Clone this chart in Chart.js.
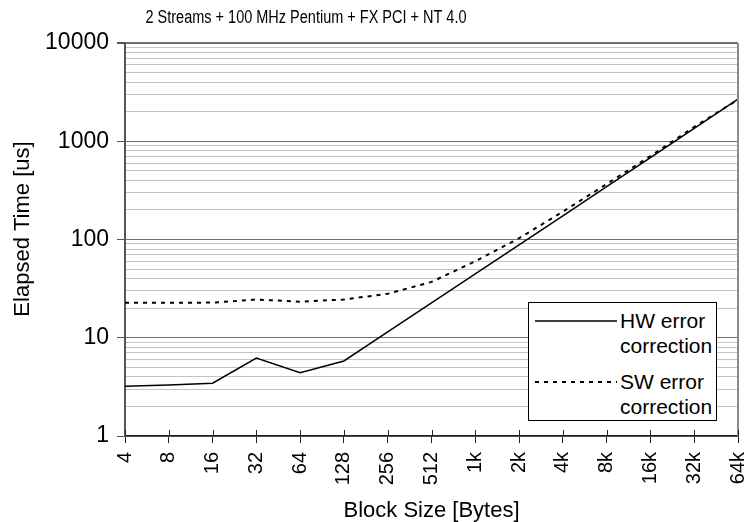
<!DOCTYPE html>
<html>
<head>
<meta charset="utf-8">
<script src="https://cdn.jsdelivr.net/npm/chart.js@4.4.1/dist/chart.umd.min.js"></script>
<style>
  html, body { margin: 0; padding: 0; background: #fff; }
  #wrap { position: relative; width: 744px; height: 522px; }
  #legend { position: absolute; left: 528px; top: 302px; width: 187px; height: 117px;
            border: 1px solid #000; background: #fff; font-family: 'Liberation Sans', Arial, sans-serif;
            font-size: 21px; color: #000; }
  .lg-text { position: absolute; left: 91px; line-height: 25px; white-space: nowrap; }
  .lg-line { position: absolute; left: 6px; }
</style>
</head>
<body>
<div id="wrap">
  <canvas id="c" width="744" height="522"></canvas>
  <div id="legend">
    <svg class="lg-line" style="top:10px" width="84" height="16"><line x1="0" y1="8" x2="82" y2="8" stroke="#000" stroke-width="1.5"/></svg>
    <div class="lg-text" style="top:5px">HW error<br>correction</div>
    <svg class="lg-line" style="top:71px" width="84" height="16"><line x1="0" y1="8" x2="82" y2="8" stroke="#000" stroke-width="2" stroke-dasharray="4,5"/></svg>
    <div class="lg-text" style="top:66px">SW error<br>correction</div>
  </div>
</div>
<script>
const chartTitle = '2 Streams + 100 MHz Pentium + FX PCI + NT 4.0';
const xTitle = 'Block Size [Bytes]';
const yTitle = 'Elapsed Time [us]';
const blockSizes = ['4', '8', '16', '32', '64', '128', '256', '512', '1k', '2k', '4k', '8k', '16k', '32k', '64k'];
const hwLabel = 'HW error correction';
const swLabel = 'SW error correction';
const hwTimes = [3.2, 3.3, 3.45, 6.2, 4.4, 5.8, 11.5, 22.6, 44.6, 88, 174, 345, 680, 1350, 2690];
const swTimes = [22.7, 22.7, 22.8, 24.5, 23.3, 24.5, 28, 37, 60, 103, 192, 367, 707, 1400, 2650];
const yDecades = [1, 10, 100, 1000, 10000];
const yMinorSteps = [1, 2, 3, 4, 5, 6, 7, 8, 9];

const FONT = "'Liberation Sans', Arial, sans-serif";
const yTickValues = [];
yDecades.forEach((d, i) => {
  if (i === yDecades.length - 1) { yTickValues.push(d); return; }
  yMinorSteps.forEach(s => yTickValues.push(s * d));
});
const isMajor = v => yDecades.includes(v);

// condensed chart title and y-axis title drawn in the margins
const textPlugin = {
  id: 'extraText',
  afterDraw(chart) {
    const ctx = chart.ctx;
    ctx.save();
    ctx.font = '18px ' + FONT;
    ctx.fillStyle = '#000';
    ctx.textAlign = 'center';
    ctx.textBaseline = 'middle';
    const w = ctx.measureText(chartTitle).width;
    ctx.translate(306, 18);
    ctx.scale(321 / w, 1);
    ctx.fillText(chartTitle, 0, 0);
    ctx.restore();

    ctx.save();
    ctx.font = '22px ' + FONT;
    ctx.fillStyle = '#000';
    ctx.textAlign = 'center';
    ctx.textBaseline = 'middle';
    ctx.translate(23, 229);
    ctx.rotate(-Math.PI / 2);
    ctx.fillText(yTitle, 0, 0);
    ctx.restore();
  }
};

const framePlugin = {
  id: 'frame',
  afterDraw(chart) {
    const {ctx, chartArea: a, scales} = chart;
    ctx.save();
    ctx.strokeStyle = '#8c8c8c';
    ctx.lineWidth = 2;
    ctx.beginPath();
    ctx.moveTo(a.right, a.top);
    ctx.lineTo(a.right, a.bottom);
    ctx.stroke();
    ctx.strokeStyle = '#222';
    ctx.lineWidth = 1;
    const xs = scales.x;
    blockSizes.forEach((_, i) => {
      const x = Math.round(xs.getPixelForTick(i)) + 0.5;
      ctx.beginPath();
      ctx.moveTo(x, a.bottom);
      ctx.lineTo(x, a.bottom - 6);
      ctx.stroke();
    });
    ctx.restore();
  }
};

new Chart(document.getElementById('c'), {
  type: 'line',
  data: {
    labels: blockSizes,
    datasets: [
      { label: hwLabel, data: hwTimes, borderColor: '#000', borderWidth: 1.5, pointRadius: 0, tension: 0, fill: false },
      { label: swLabel, data: swTimes, borderColor: '#000', borderWidth: 2, borderDash: [4, 5], pointRadius: 0, tension: 0, fill: false }
    ]
  },
  options: {
    responsive: false,
    animation: false,
    layout: { padding: { left: 0, right: 6, top: 43, bottom: 0 } },
    plugins: {
      legend: { display: false },
      tooltip: { enabled: false },
      title: { display: false, text: chartTitle }
    },
    scales: {
      x: {
        type: 'category',
        offset: false,
        grid: { display: true, drawOnChartArea: false, drawTicks: true, tickLength: 7, color: '#222', tickColor: '#222' },
        border: { display: true, color: '#222', width: 1.5 },
        ticks: {
          color: '#000', font: { family: FONT, size: 20 }, minRotation: 90, maxRotation: 90,
          autoSkip: false, padding: 9
        },
        title: { display: true, text: xTitle, color: '#000', font: { family: FONT, size: 22, lineHeight: 1 }, padding: { top: 0, bottom: 0 } },
        afterFit: s => { s.height = 86; s.paddingLeft = 0; s.paddingRight = 0; }
      },
      y: {
        type: 'logarithmic',
        min: 1, max: 10000,
        afterBuildTicks: s => { s.ticks = yTickValues.map(v => ({ value: v, major: isMajor(v) })); },
        grid: {
          display: true, drawOnChartArea: true, drawTicks: true, tickLength: 8,
          color: c => (c.tick && isMajor(c.tick.value)) ? '#6f6f6f' : '#c4c4c4',
          lineWidth: c => (c.tick && c.tick.value === 10000) ? 2 : 1,
          tickColor: c => (c.tick && isMajor(c.tick.value)) ? '#555' : 'rgba(0,0,0,0)'
        },
        border: { display: true, color: '#555', width: 2 },
        ticks: {
          color: '#000', font: { family: FONT, size: 23 }, autoSkip: false, padding: 8,
          callback: v => isMajor(v) ? String(v) : ''
        },
        title: { display: false, text: yTitle },
        afterFit: s => { s.width = 125; s.paddingTop = 0; s.paddingBottom = 0; }
      }
    }
  },
  plugins: [framePlugin, textPlugin]
});
</script>
</body>
</html>
